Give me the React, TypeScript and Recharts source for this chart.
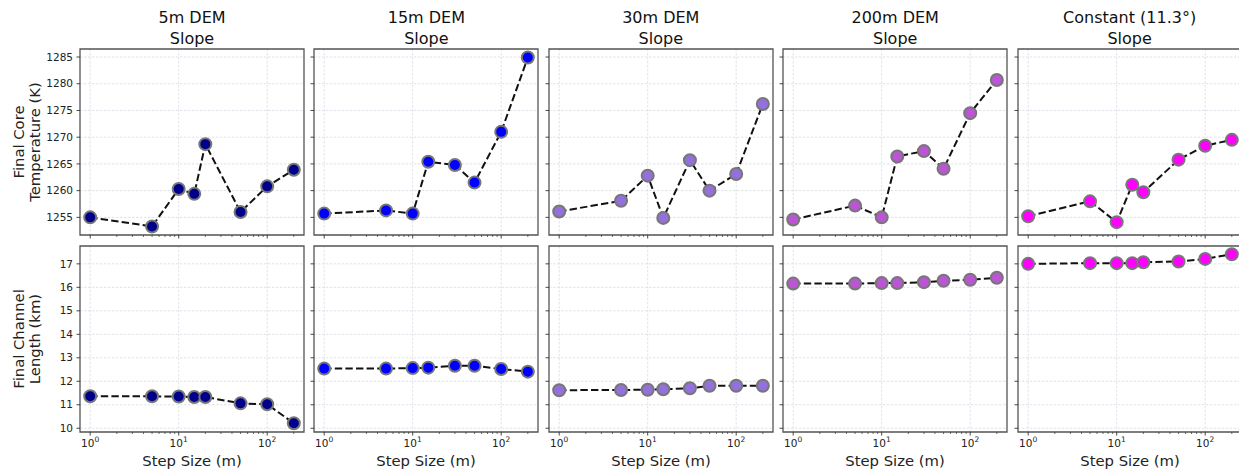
import React from 'react';
import { LineChart, Line, XAxis, YAxis, CartesianGrid, ReferenceArea } from 'recharts';

// step sizes (m) used by each run
const stepsA = [1, 5, 10, 15, 20, 50, 100, 200];
const stepsB = [1, 5, 10, 15, 30, 50, 100, 200];

const titles = ['5m DEM', '15m DEM', '30m DEM', '200m DEM', 'Constant (11.3°)'];
const markerColors = ['#00008b', '#0000ff', '#9370db', '#ba55d3', '#ff00ff'];

// final core temperature (K)
const temp5m = [1255.0, 1253.3, 1260.3, 1259.4, 1268.7, 1256.0, 1260.8, 1263.9];
const temp15m = [1255.7, 1256.3, 1255.7, 1265.4, 1264.8, 1261.5, 1271.0, 1284.9];
const temp30m = [1256.1, 1258.1, 1262.8, 1254.9, 1265.7, 1260.0, 1263.1, 1276.2];
const temp200m = [1254.6, 1257.2, 1255.0, 1266.4, 1267.4, 1264.1, 1274.5, 1280.7];
const tempConst = [1255.2, 1258.0, 1254.1, 1261.1, 1259.7, 1265.8, 1268.4, 1269.5];

// final channel length (km)
const len5m = [11.36, 11.36, 11.35, 11.33, 11.33, 11.06, 11.02, 10.21];
const len15m = [12.54, 12.54, 12.56, 12.58, 12.66, 12.66, 12.52, 12.41];
const len30m = [11.62, 11.63, 11.64, 11.66, 11.7, 11.81, 11.81, 11.81];
const len200m = [16.16, 16.16, 16.18, 16.18, 16.22, 16.28, 16.32, 16.41];
const lenConst = [17.0, 17.03, 17.03, 17.03, 17.07, 17.1, 17.21, 17.41];

const tempTicks = [1255, 1260, 1265, 1270, 1275, 1280, 1285];
const lenTicks = [10, 11, 12, 13, 14, 15, 16, 17];
const xMajor = [1, 10, 100];
const xTicks = [1, 2, 3, 4, 5, 6, 7, 8, 9, 10, 20, 30, 40, 50, 60, 70, 80, 90, 100, 200];

const panelSteps = [stepsA, stepsB, stepsB, stepsB, stepsA];
const tempSeries = [temp5m, temp15m, temp30m, temp200m, tempConst];
const lenSeries = [len5m, len15m, len30m, len200m, lenConst];

const FONT = 'DejaVu Sans';
const PW = 224;
const PH = 186;
const X_DOMAIN: [number, number] = [0.767, 260.6];
const Y_DOMAINS: [number, number][] = [[1251.7, 1286.5], [9.84, 17.76]];

const XTick = (props: any) => {
  const { x, y, payload, showLabel } = props;
  const v = payload.value;
  const major = xMajor.includes(v);
  return (
    <g>
      <line x1={x} x2={x} y1={y} y2={y + (major ? 3.5 : 2)} stroke="#333" strokeWidth={major ? 0.9 : 0.7} />
      {showLabel && major && (
        <text x={x} y={y + 15.3} textAnchor="middle" fontSize={10.5} fill="#222" fontFamily={FONT}>
          10<tspan dy={-5} fontSize={7.5}>{Math.round(Math.log10(v))}</tspan>
        </text>
      )}
    </g>
  );
};

const YTick = (props: any) => {
  const { x, y, payload, showLabel } = props;
  return (
    <g>
      <line x1={x - 3.5} x2={x} y1={y} y2={y} stroke="#333" strokeWidth={0.9} />
      {showLabel && (
        <text x={x - 7} y={y} dy="0.35em" textAnchor="end" fontSize={10.5} fill="#222" fontFamily={FONT}>
          {payload.value}
        </text>
      )}
    </g>
  );
};

function Panel({ row, col }: { row: number; col: number }) {
  const steps = panelSteps[col];
  const values = row === 0 ? tempSeries[col] : lenSeries[col];
  const data = steps.map((s, i) => ({ step: s, value: values[i] }));
  const yW = col === 0 ? 80 : 10;
  const xH = row === 0 ? 6 : 40;
  const plotLeft = 80 + col * 234.4;
  const plotTop = row === 0 ? 49 : 246;
  const yDomain = Y_DOMAINS[row];

  return (
    <div style={{ position: 'absolute', left: plotLeft - yW, top: plotTop - 2 }}>
      <LineChart
        width={yW + PW + 4}
        height={PH + xH + 2}
        data={data}
        margin={{ top: 2, right: 4, bottom: 0, left: 0 }}
      >
        <CartesianGrid
          stroke="#d6dbe2"
          strokeDasharray="2.5 1.5"
          strokeWidth={0.8}
          verticalValues={xMajor}
        />
        <XAxis
          dataKey="step"
          type="number"
          scale="log"
          domain={X_DOMAIN}
          ticks={xTicks}
          interval={0}
          height={xH}
          axisLine={false}
          tickLine={false}
          tickSize={0}
          tickMargin={0}
          tick={<XTick showLabel={row === 1} />}
          label={
            row === 1
              ? { value: 'Step Size (m)', position: 'insideBottom', offset: 6, fontSize: 14.8, fill: '#222', fontFamily: FONT }
              : undefined
          }
        />
        <YAxis
          type="number"
          domain={yDomain}
          ticks={row === 0 ? tempTicks : lenTicks}
          interval={0}
          width={yW}
          axisLine={false}
          tickLine={false}
          tickSize={0}
          tickMargin={0}
          tick={<YTick showLabel={col === 0} />}
        />
        <Line
          dataKey="value"
          stroke="#111"
          strokeWidth={2}
          strokeDasharray="7.4 3.2"
          isAnimationActive={false}
          dot={{ r: 6, fill: markerColors[col], stroke: '#777', strokeWidth: 2, strokeDasharray: '0', fillOpacity: 1 }}
        />
        <ReferenceArea
          x1={X_DOMAIN[0]}
          x2={X_DOMAIN[1]}
          y1={yDomain[0]}
          y2={yDomain[1]}
          fill="none"
          stroke="#555"
          strokeWidth={1.3}
          ifOverflow="visible"
        />
      </LineChart>
    </div>
  );
}

export default function App() {
  const yLabels = [
    { lines: ['Final Core', 'Temperature (K)'], cy: 142 },
    { lines: ['Final Channel', 'Length (km)'], cy: 339 },
  ];
  return (
    <div
      style={{
        position: 'absolute',
        left: 0,
        top: 0,
        width: 1239,
        height: 472,
        overflow: 'hidden',
        background: '#fff',
        fontFamily: FONT,
      }}
    >
      {titles.map((t, i) => (
        <div
          key={t}
          style={{
            position: 'absolute',
            left: 80 + i * 234.4,
            top: 8,
            width: PW,
            textAlign: 'center',
            fontSize: 16,
            lineHeight: '20.5px',
            color: '#111',
          }}
        >
          {t}
          <br />
          Slope
        </div>
      ))}
      {[0, 1].map((row) =>
        [0, 1, 2, 3, 4].map((col) => <Panel key={`${row}-${col}`} row={row} col={col} />)
      )}
      <svg width={60} height={472} style={{ position: 'absolute', left: 0, top: 0 }}>
        {yLabels.map((l) => (
          <text
            key={l.lines[0]}
            transform={`translate(25.75, ${l.cy}) rotate(-90)`}
            textAnchor="middle"
            dominantBaseline="central"
            fontSize={14.8}
            fill="#222"
            fontFamily={FONT}
          >
            <tspan x={0} y={-8.25}>{l.lines[0]}</tspan>
            <tspan x={0} y={8.25}>{l.lines[1]}</tspan>
          </text>
        ))}
      </svg>
    </div>
  );
}
